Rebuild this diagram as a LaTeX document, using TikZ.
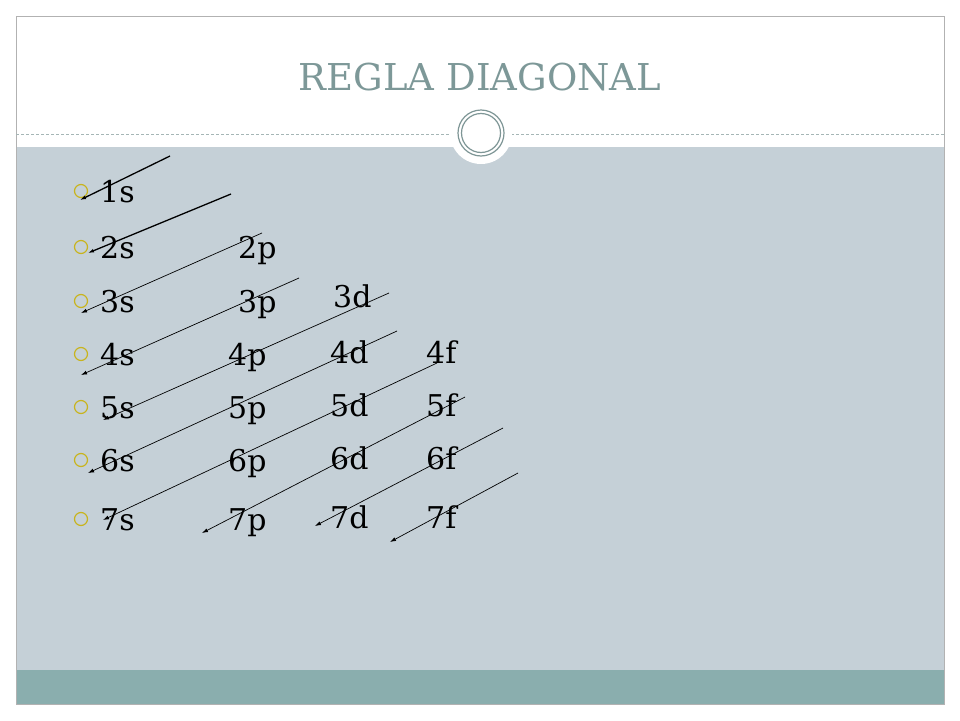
\documentclass[tikz,border=0pt]{standalone}
\usepackage{fontspec}
\usetikzlibrary{arrows.meta}
\setmainfont{DejaVu Serif}
\definecolor{bg}{HTML}{C5D0D7}
\definecolor{band}{HTML}{8AAEAE}
\definecolor{ttl}{HTML}{7D9898}
\definecolor{ring}{HTML}{7E9696}
\definecolor{bul}{HTML}{C8B41E}
\begin{document}
\begin{tikzpicture}[x=1pt,y=-1pt,
  lbl/.style={font=\fontsize{30}{30}\selectfont,anchor=base west,inner sep=0},
  bullet/.style={circle,draw=bul,line width=1.2pt,minimum size=13pt,inner sep=0},
  arr/.style={-{Latex[length=6pt,width=4pt]},line width=0.8pt}]
\useasboundingbox (0,0) rectangle (960,720);
\fill[white] (0,0) rectangle (960,720);
\fill[bg] (16,147) rectangle (944,670);
\fill[band] (16,670) rectangle (944,704);
\draw[gray!60] (16,16) rectangle (944,704);
\draw[ring!70,dashed,dash pattern=on 3pt off 2pt] (16,134) -- (944,134);
\node[circle,fill=white,minimum size=62pt,inner sep=0] (c) at (481,133) {};
\draw[ring,line width=1.2pt] (c.center) circle (23);
\draw[ring,line width=1.2pt] (c.center) circle (19.5);
\node[font=\fontsize{37}{37}\selectfont,text=ttl] (t) at (480,77) {REGLA DIAGONAL};
\foreach \y/\n in {202/1,258/2,312/3,365/4,418/5,471/6,530/7}{
  \node[bullet] (b\n) at (81,\y-11) {};
}
\node[lbl] (s1) at (100,202) {1s};
\node[lbl] (s2) at (100,258) {2s}; \node[lbl] (p2) at (238,258) {2p};
\node[lbl] (s3) at (100,312) {3s}; \node[lbl] (p3) at (238,312) {3p}; \node[lbl] (d3) at (333,307) {3d};
\node[lbl] (s4) at (100,365) {4s}; \node[lbl] (p4) at (228,365) {4p}; \node[lbl] (d4) at (330,363) {4d}; \node[lbl] (f4) at (426,363) {4f};
\node[lbl] (s5) at (100,418) {5s}; \node[lbl] (p5) at (228,418) {5p}; \node[lbl] (d5) at (330,416) {5d}; \node[lbl] (f5) at (426,416) {5f};
\node[lbl] (s6) at (100,471) {6s}; \node[lbl] (p6) at (228,471) {6p}; \node[lbl] (d6) at (330,469) {6d}; \node[lbl] (f6) at (426,469) {6f};
\node[lbl] (s7) at (100,530) {7s}; \node[lbl] (p7) at (228,530) {7p}; \node[lbl] (d7) at (330,528) {7d}; \node[lbl] (f7) at (426,528) {7f};
\foreach \n/\a/\b/\c/\d/\w in {1/170/156/80/200/1.3,2/231/194/88/253/1.3,3/262/233/81/313/0.7,4/299/278/81/375/0.7,
  5/389/293/103/420/0.7,6/397/331/88/473/0.7,7/437/363/103/520/0.7,8/465/397/202/533/0.7,9/503/428/315/526/0.7,10/518/473/390/542/0.7}{
  \coordinate (a\n) at (\a,\b); \coordinate (e\n) at (\c,\d);
  \draw[arr,line width=\w pt] (a\n) -- (e\n);
}
\end{tikzpicture}
\end{document}
